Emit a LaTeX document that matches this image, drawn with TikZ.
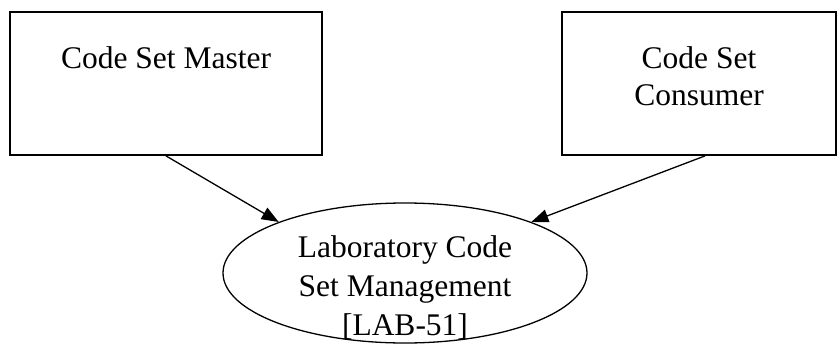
\documentclass[tikz,border=0pt]{standalone}
\usepackage{fontspec}
\setmainfont{Liberation Serif}
\usetikzlibrary{positioning,shapes.geometric,arrows.meta}

\begin{document}
\begin{tikzpicture}[x=1pt,y=-1pt,
   box/.style={draw,line width=1.8pt,shape=rectangle,align=center,minimum height=143pt,text height=50pt,text depth=7pt,font=\fontsize{31.5}{37}\selectfont},
   usecase/.style={draw,line width=1.3pt,shape=ellipse,inner sep=0pt,minimum width=364pt,minimum height=140pt,font=\fontsize{31.5}{39}\selectfont}]
   \useasboundingbox (0,0) rectangle (840,345);
   \node[box,minimum width=312pt] (Master)   at (166,83.5)   { Code Set Master\\~ } ;
   \node[box,minimum width=274pt] (Consumer) at (699,83.5)   { Code Set\\Consumer } ;
   \node[usecase                ] (Lab 51)   at (405,273)    { \raisebox{-22pt}[0pt][0pt]{\begin{tabular}{@{}c@{}}Laboratory Code\\Set Management\\{[}LAB-51{]}\end{tabular}} } ;
   \draw[line width=1.3pt,-{Triangle[length=17pt,width=13pt]}] (Master.south)                 -- (Lab 51.158);
   \draw[line width=1.3pt,-{Triangle[length=17pt,width=13pt]}] ([xshift=6pt]Consumer.south) -- (Lab 51.22);
\end{tikzpicture}
\end{document}
